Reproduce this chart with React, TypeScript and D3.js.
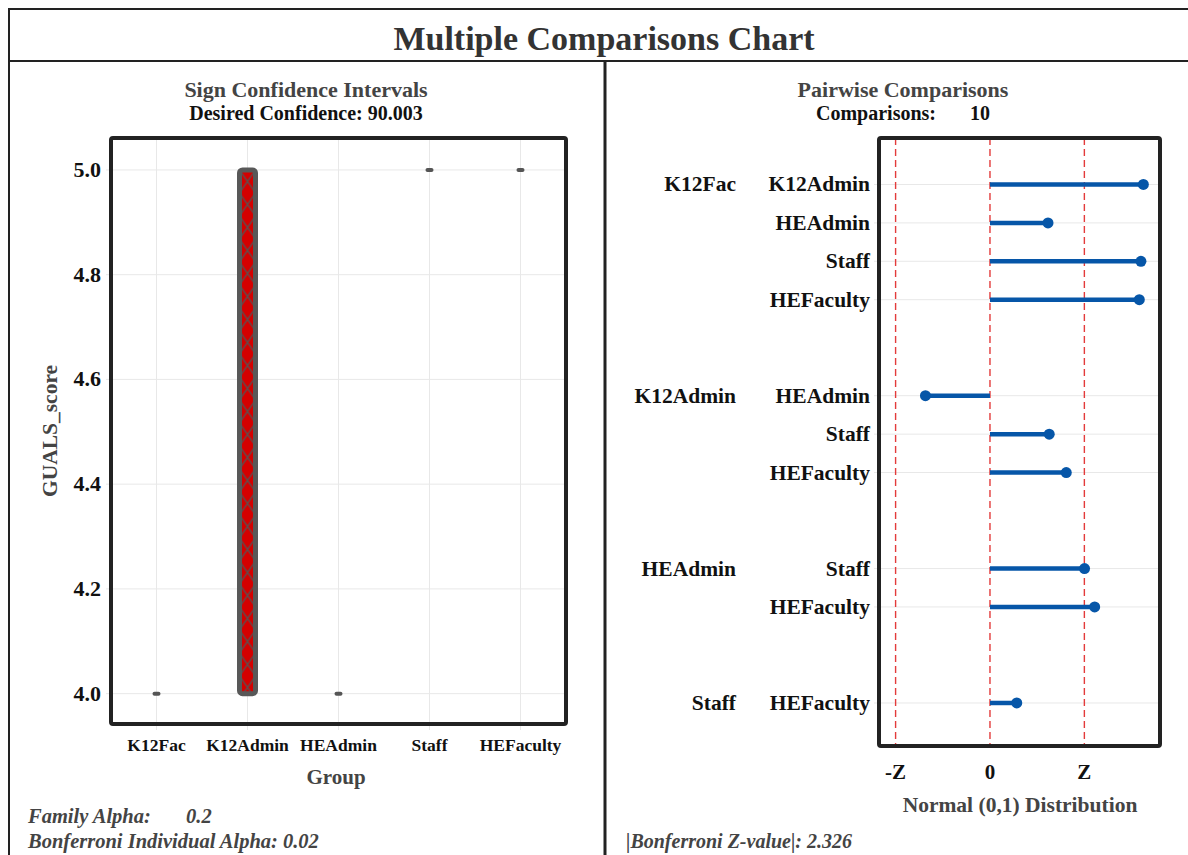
import React from 'react';
import * as d3 from 'd3';

// left panel: sign confidence intervals per group
const groups = ['K12Fac', 'K12Admin', 'HEAdmin', 'Staff', 'HEFaculty'];
const lowerCI = [4.0, 4.0, 4.0, 5.0, 5.0];
const upperCI = [4.0, 5.0, 4.0, 5.0, 5.0];
const yTicks = [4.0, 4.2, 4.4, 4.6, 4.8, 5.0];

// right panel: pairwise z statistics
const pairFirst = ['K12Fac', 'K12Fac', 'K12Fac', 'K12Fac', 'K12Admin', 'K12Admin', 'K12Admin', 'HEAdmin', 'HEAdmin', 'Staff'];
const pairSecond = ['K12Admin', 'HEAdmin', 'Staff', 'HEFaculty', 'HEAdmin', 'Staff', 'HEFaculty', 'Staff', 'HEFaculty', 'HEFaculty'];
const pairZ = [3.78, 1.43, 3.72, 3.68, -1.59, 1.46, 1.88, 2.33, 2.58, 0.66];
const zCrit = 2.326;
const zTickLabels = ['-Z', '0', 'Z'];

const FONT = '"Liberation Serif", "Times New Roman", serif';
const DARK = '#222';
const GREY_TEXT = '#444';
const GRID = '#e8e8e8';
const BLUE = '#0656a8';
const RED = '#e33b3b';

function pairSlots()
{
    // one slot per comparison, with 1.5 blank slots between first-group blocks
    const slots: number[] = [];
    let pos = 0;
    pairFirst.forEach((g, i) =>
    {
        if (i > 0 && g !== pairFirst[i - 1]) pos += 1.5;
        slots.push(pos);
        pos += 1;
    });
    return slots;
}

function LeftPanel()
{
    const box = { left: 111, right: 566, top: 138, bottom: 724 };
    const x = d3.scalePoint<string>().domain(groups).range([box.left, box.right]).padding(0.5);
    const y = d3.scaleLinear().domain([3.942, 5.061]).range([box.bottom, box.top]);
    const cx = 306;

    return (
        <g fontFamily={ FONT } fontWeight="bold">
            <defs>
                <pattern id="hatch" patternUnits="userSpaceOnUse" width={ 16 } height={ 23 } x={ (x('K12Admin') ?? 0) - 8 } y={ y(5) }>
                    <rect width={ 16 } height={ 23 } fill="#d40000" />
                    <path d="M0,0 L16,23 M16,0 L0,23" stroke="#5a4f4f" strokeWidth={ 1.3 } />
                </pattern>
            </defs>
            <text x={ cx } y={ 97 } textAnchor="middle" fontSize={ 22 } fill={ GREY_TEXT }>Sign Confidence Intervals</text>
            <text x={ cx } y={ 120 } textAnchor="middle" fontSize={ 20 } fill="#111">Desired Confidence: 90.003</text>

            { groups.map((g) => (
                <line key={ `vg-${ g }` } x1={ x(g) } x2={ x(g) } y1={ box.top } y2={ box.bottom + 6 } stroke={ GRID } strokeWidth={ 1 } />
            )) }
            { yTicks.map((t) => (
                <g key={ `yt-${ t }` }>
                    <line x1={ box.left - 5 } x2={ box.right } y1={ y(t) } y2={ y(t) } stroke={ GRID } strokeWidth={ 1 } />
                    <text x={ 101 } y={ y(t) + 7 } textAnchor="end" fontSize={ 22 } fill="#111">{ t.toFixed(1) }</text>
                </g>
            )) }

            { groups.map((g, i) =>
            {
                const lo = lowerCI[i];
                const hi = upperCI[i];
                const xc = x(g) ?? 0;
                if (hi > lo)
                {
                    return (
                        <rect key={ `ci-${ g }` } x={ xc - 8 } y={ y(hi) } width={ 16 } height={ y(lo) - y(hi) }
                            rx={ 3 } fill="url(#hatch)" stroke="#585858" strokeWidth={ 5 } />
                    );
                }
                return <rect key={ `ci-${ g }` } x={ xc - 4 } y={ y(lo) - 2 } width={ 8 } height={ 4 } rx={ 2 } fill="#555" />;
            }) }

            <rect x={ box.left } y={ box.top } width={ box.right - box.left } height={ box.bottom - box.top }
                fill="none" stroke={ DARK } strokeWidth={ 4 } rx={ 2 } />

            { groups.map((g) => (
                <text key={ `xl-${ g }` } x={ x(g) } y={ 751 } textAnchor="middle" fontSize={ 17.5 } fill="#111">{ g }</text>
            )) }
            <text x={ 336 } y={ 784 } textAnchor="middle" fontSize={ 21 } fill={ GREY_TEXT }>Group</text>
            <text transform={ `translate(57,${ (box.top + box.bottom) / 2 }) rotate(-90)` } textAnchor="middle" fontSize={ 21.5 } fill={ GREY_TEXT }>GUALS_score</text>

            <text x={ 28 } y={ 823 } fontSize={ 20.5 } fontStyle="italic" fill={ GREY_TEXT }>Family Alpha:</text>
            <text x={ 186 } y={ 823 } fontSize={ 20.5 } fontStyle="italic" fill={ GREY_TEXT }>0.2</text>
            <text x={ 28 } y={ 848 } fontSize={ 20.5 } fontStyle="italic" fill={ GREY_TEXT }>Bonferroni Individual Alpha: 0.02</text>
        </g>
    );
}

function RightPanel()
{
    const box = { left: 879, right: 1160, top: 138, bottom: 746 };
    const slots = pairSlots();
    const x = d3.scaleLinear().domain([-2.735, 4.19]).range([box.left, box.right]);
    const y = d3.scaleLinear().domain([-1.21, 14.62]).range([box.top, box.bottom]);
    const zTicks = [-zCrit, 0, zCrit];
    const cx = 903;

    return (
        <g fontFamily={ FONT } fontWeight="bold">
            <text x={ cx } y={ 97 } textAnchor="middle" fontSize={ 22 } fill={ GREY_TEXT }>Pairwise Comparisons</text>
            <text x={ 816 } y={ 120 } fontSize={ 20 } fill="#111">Comparisons:</text>
            <text x={ 970 } y={ 120 } fontSize={ 20 } fill="#111">10</text>

            { pairZ.map((z, i) => (
                <line key={ `hg-${ i }` } x1={ box.left - 5 } x2={ box.right } y1={ y(slots[i]) } y2={ y(slots[i]) } stroke={ GRID } strokeWidth={ 1 } />
            )) }
            { zTicks.map((t) => (
                <line key={ `zl-${ t }` } x1={ x(t) } x2={ x(t) } y1={ box.top } y2={ box.bottom }
                    stroke={ RED } strokeWidth={ 1.4 } strokeDasharray="7,4" />
            )) }

            { pairZ.map((z, i) => (
                <g key={ `pz-${ i }` }>
                    <line x1={ x(0) } x2={ x(z) } y1={ y(slots[i]) } y2={ y(slots[i]) } stroke={ BLUE } strokeWidth={ 4.5 } />
                    <circle cx={ x(z) } cy={ y(slots[i]) } r={ 5.5 } fill={ BLUE } />
                </g>
            )) }

            <rect x={ box.left } y={ box.top } width={ box.right - box.left } height={ box.bottom - box.top }
                fill="none" stroke={ DARK } strokeWidth={ 4 } rx={ 2 } />

            { pairFirst.map((g, i) => (i === 0 || g !== pairFirst[i - 1]
                ? <text key={ `g1-${ i }` } x={ 736 } y={ y(slots[i]) + 7 } textAnchor="end" fontSize={ 21.5 } fill="#111">{ g }</text>
                : null)) }
            { pairSecond.map((g, i) => (
                <text key={ `g2-${ i }` } x={ 870 } y={ y(slots[i]) + 7 } textAnchor="end" fontSize={ 21.5 } fill="#111">{ g }</text>
            )) }

            { zTicks.map((t, i) => (
                <text key={ `zt-${ t }` } x={ x(t) } y={ 779 } textAnchor="middle" fontSize={ 21 } fill="#111">{ zTickLabels[i] }</text>
            )) }
            <text x={ 1020 } y={ 812 } textAnchor="middle" fontSize={ 21.5 } fill={ GREY_TEXT }>Normal (0,1) Distribution</text>
            <text x={ 626 } y={ 848 } fontSize={ 20 } fontStyle="italic" fill={ GREY_TEXT }>|Bonferroni Z-value|: 2.326</text>
        </g>
    );
}

export default function App()
{
    return (
        <svg width={ 1188 } height={ 855 } style={ { position: 'absolute', left: 0, top: 0, background: '#fff' } }>
            <line x1={ 8 } x2={ 1188 } y1={ 9 } y2={ 9 } stroke={ DARK } strokeWidth={ 2 } />
            <line x1={ 9 } x2={ 9 } y1={ 8 } y2={ 855 } stroke={ DARK } strokeWidth={ 2 } />
            <line x1={ 8 } x2={ 1188 } y1={ 61 } y2={ 61 } stroke={ DARK } strokeWidth={ 2 } />
            <line x1={ 605 } x2={ 605 } y1={ 61 } y2={ 855 } stroke={ DARK } strokeWidth={ 3 } />
            <text x={ 604 } y={ 50 } textAnchor="middle" fontFamily={ FONT } fontWeight="bold" fontSize={ 34 } fill="#333">
                Multiple Comparisons Chart
            </text>
            <LeftPanel />
            <RightPanel />
        </svg>
    );
}
